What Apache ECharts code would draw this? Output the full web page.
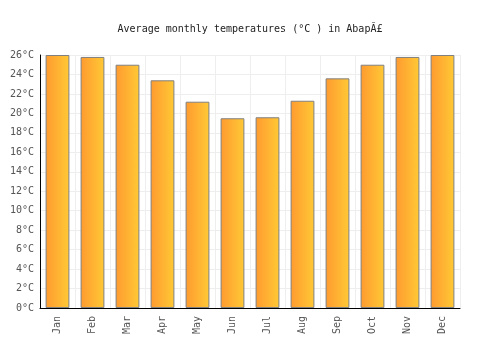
<!DOCTYPE html>
<html>
<head>
<meta charset="utf-8">
<script src="https://cdn.jsdelivr.net/npm/echarts@6/dist/echarts.min.js"></script>
<style>
	html, body { margin: 0; padding: 0; background: #fff; }
	#chart { width: 500px; height: 350px; }
</style>
</head>
<body>
<div id="chart"></div>
<script>
// chart data
var months = ['Jan', 'Feb', 'Mar', 'Apr', 'May', 'Jun', 'Jul', 'Aug', 'Sep', 'Oct', 'Nov', 'Dec'];
var temps = [26.0, 25.8, 25.0, 23.4, 21.2, 19.5, 19.6, 21.3, 23.6, 25.0, 25.8, 26.0];
var titleText = 'Average monthly temperatures (°C ) in AbapÃ£';

var myChart = echarts.init(document.getElementById('chart'));

var option = {
	animation: false,
	title: {
		text: titleText,
		left: 'center',
		top: 19,
		textStyle: {
			fontFamily: 'DejaVu Sans Mono',
			fontSize: 10,
			fontWeight: 'normal',
			color: '#222'
		}
	},
	grid: {
		left: 40,
		right: 40,
		top: 55,
		bottom: 42
	},
	xAxis: {
		type: 'category',
		data: months,
		axisLine: { lineStyle: { color: '#000', width: 1 } },
		axisTick: { show: false },
		axisLabel: {
			rotate: 90,
			fontFamily: 'DejaVu Sans Mono',
			fontSize: 10,
			color: '#555',
			margin: 8
		},
		splitLine: { show: true, lineStyle: { color: '#eee' } }
	},
	yAxis: {
		type: 'value',
		min: 0,
		max: 26,
		interval: 2,
		axisLine: { show: true, lineStyle: { color: '#000', width: 1 } },
		axisTick: { show: false },
		axisLabel: {
			formatter: '{value}°C',
			fontFamily: 'DejaVu Sans Mono',
			fontSize: 10,
			color: '#555',
			margin: 6
		},
		splitLine: { lineStyle: { color: '#eee' } }
	},
	series: [{
		type: 'bar',
		data: temps,
		barWidth: '68%',
		itemStyle: {
			borderColor: '#808080',
			borderWidth: 1,
			color: new echarts.graphic.LinearGradient(0, 0, 1, 0, [
				{ offset: 0, color: '#ff9a30' },
				{ offset: 1, color: '#ffc935' }
			])
		}
	}]
};

myChart.setOption(option);
</script>
</body>
</html>
